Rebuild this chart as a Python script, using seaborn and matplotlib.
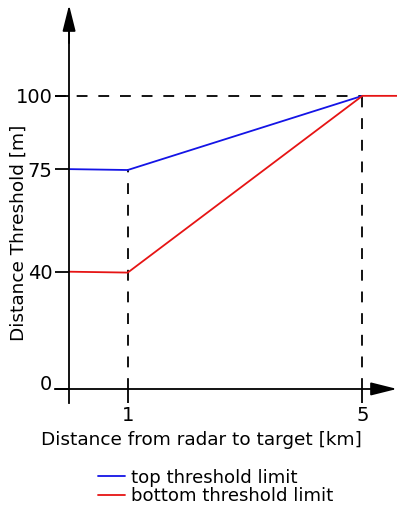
import pandas as pd
import matplotlib
matplotlib.use('Agg')
import matplotlib.pyplot as plt
import matplotlib.transforms as mtransforms
import seaborn as sns

# Data
top_x = [0, 1, 5]
top_y = [75, 74.7, 100]
bottom_x = [0, 1, 5, 5.7]
bottom_y = [40, 39.7, 100, 100]
y_ticks = [0, 40, 75, 100]
x_ticks = [1, 5]
top_label = 'top threshold limit'
bottom_label = 'bottom threshold limit'

df = pd.concat([
    pd.DataFrame({'x': top_x, 'y': top_y, 'limit': top_label}),
    pd.DataFrame({'x': bottom_x, 'y': bottom_y, 'limit': bottom_label}),
], ignore_index=True)

sns.set_style('white')
plt.rcParams['font.family'] = ['DejaVu Sans']
plt.rcParams.update({'text.color': 'black', 'xtick.color': 'black', 'ytick.color': 'black'})

fig = plt.figure(figsize=(3.97, 5.12), dpi=100)
# axes box in figure fraction: px 55..397 wide, 5..403 tall
ax = fig.add_axes([55 / 397, 1 - 403 / 512, 342 / 397, 398 / 512])
ax.set_xlim(-0.24, 5.59)
ax.set_ylim(-4.8, 131)

# Dashed guide lines
dash_kw = dict(color='black', lw=1.3, dashes=(6, 6))
ax.plot([-0.24, 5], [100, 100], **dash_kw)
ax.plot([1, 1], [0, 75], **dash_kw)
ax.plot([5, 5], [0, 100], **dash_kw)

sns.lineplot(data=df, x='x', y='y', hue='limit', sort=False, estimator=None,
             palette={top_label: '#1414e6', bottom_label: '#e61414'},
             lw=1.3, ax=ax, legend=True)

# Axes as arrows
for s in ['top', 'right']:
    ax.spines[s].set_visible(False)
ax.spines['left'].set_position(('data', 0))
ax.spines['bottom'].set_position(('data', 0))
ax.spines['left'].set_bounds(-4.8, 124)
ax.spines['bottom'].set_bounds(-0.24, 5.3)
for s in ['left', 'bottom']:
    ax.spines[s].set_linewidth(1.3)
    ax.spines[s].set_color('black')
arrow = dict(arrowstyle='-|>,head_length=1.6,head_width=0.4',
             color='black', lw=1.3, shrinkA=0, shrinkB=0)
ax.annotate('', xy=(0, 131), xytext=(0, 118), arrowprops=arrow)
ax.annotate('', xy=(5.59, 0), xytext=(5.2, 0), arrowprops=arrow)

ax.set_yticks(y_ticks)
ax.set_yticklabels([str(v) for v in y_ticks])
ax.set_xticks(x_ticks)
ax.set_xticklabels([str(v) for v in x_ticks])
ax.tick_params(axis='both', direction='out', length=10, width=1.3,
               labelsize=14, color='black', pad=2, left=True, bottom=True)

# "0" label sits a bit above the x axis in the reference
zero_lbl = ax.get_yticklabels()[0]
zero_lbl.set_transform(zero_lbl.get_transform()
                       + mtransforms.ScaledTranslation(0, 6 / 100, fig.dpi_scale_trans))

ax.set_xlabel('')
ax.set_ylabel('')
fig.text(201 / 397, 1 - 440 / 512, 'Distance from radar to target [km]',
         ha='center', va='center', fontsize=13.3)
fig.text(19 / 397, 1 - 233 / 512, 'Distance Threshold [m]',
         ha='center', va='center', rotation=90, fontsize=13.3)

ax.get_legend().remove()
handles, labels = ax.get_legend_handles_labels()
fig.legend(handles, labels, loc='center left', bbox_to_anchor=(89 / 397, 1 - 487 / 512),
           frameon=False, fontsize=13.1, handlelength=1.5, handletextpad=0.3,
           labelspacing=0.05, borderpad=0)

fig.savefig('out.png', dpi=100)
